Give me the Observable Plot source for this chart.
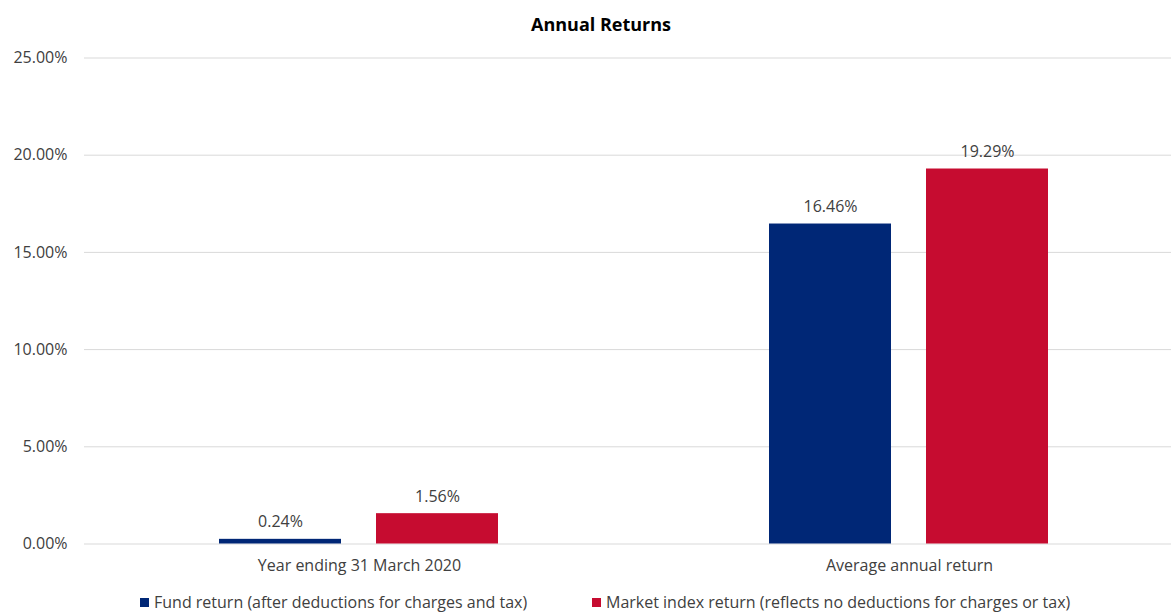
<!DOCTYPE html>
<html><head><meta charset="utf-8">
<script src="https://cdn.jsdelivr.net/npm/d3@7"></script>
<script src="https://cdn.jsdelivr.net/npm/@observablehq/plot@0.6"></script>
<style>
html,body{margin:0;padding:0;background:#fff;overflow:hidden;width:1171px;height:612px}
#wrap{position:relative;width:1171px;height:612px;font-family:"Open Sans", sans-serif;color:#404040;overflow:hidden}
#title{position:absolute;top:11px;left:0;width:1202px;text-align:center;font-weight:bold;font-size:18px;color:#000;line-height:26px}
#chart{position:absolute;left:0;top:0}
.lg{position:absolute;top:593px;font-size:16px;line-height:18px;white-space:nowrap;display:flex;align-items:center}
.sw{display:inline-block;width:9px;height:9px;margin-right:5px}
</style>
</head><body>
<div id="wrap">
  <div id="chart"></div>
  <div id="title">Annual Returns</div>
  <div id="legend"></div>
</div>
<script>
const categories = ["Year ending 31 March 2020", "Average annual return"];
const seriesNames = ["Fund return (after deductions for charges and tax)", "Market index return (reflects no deductions for charges or tax)"];
const fundReturns = [0.24, 16.46];
const marketReturns = [1.56, 19.29];
const yTicks = [0, 5, 10, 15, 20, 25];
const seriesColors = ["#002776", "#C60C30"];

const data = categories.flatMap((c, i) => [
  {category: c, series: seriesNames[0], value: fundReturns[i]},
  {category: c, series: seriesNames[1], value: marketReturns[i]}
]);
const pct = d => d.toFixed(2) + "%";

const chart = Plot.plot({
  width: 1171,
  height: 585,
  marginLeft: 83,
  marginRight: -13,
  marginTop: 57.5,
  marginBottom: 41.5,
  style: {fontFamily: "'Open Sans', sans-serif", fontSize: "16px", color: "#404040", background: "transparent"},
  fx: {domain: categories, padding: 0, label: null},
  x: {domain: seriesNames, paddingInner: 0.222, paddingOuter: 0.857, axis: null},
  y: {domain: [0, 25]},
  color: {domain: seriesNames, range: seriesColors},
  marks: [
    Plot.ruleY(yTicks, {stroke: "#d9d9d9", strokeWidth: 1}),
    Plot.axisY({ticks: yTicks, tickSize: 0, tickPadding: 17, tickFormat: pct, label: null, fontSize: 16}),
    Plot.axisFx({anchor: "bottom", tickSize: 0, tickPadding: 16, label: null, fontSize: 16}),
    Plot.barY(data, {fx: "category", x: "series", y: "value", fill: "series"}),
    Plot.text(data, {fx: "category", x: "series", y: "value", text: d => pct(d.value), dy: -17, fontSize: 16, fill: "#404040"})
  ]
});
document.getElementById("chart").appendChild(chart);

const legend = document.getElementById("legend");
const lefts = [140, 592];
seriesNames.forEach((s, i) => {
  const el = document.createElement("div");
  el.className = "lg";
  el.style.left = lefts[i] + "px";
  el.innerHTML = `<span class="sw" style="background:${seriesColors[i]}"></span><span>${s}</span>`;
  legend.appendChild(el);
});
</script>
</body></html>
